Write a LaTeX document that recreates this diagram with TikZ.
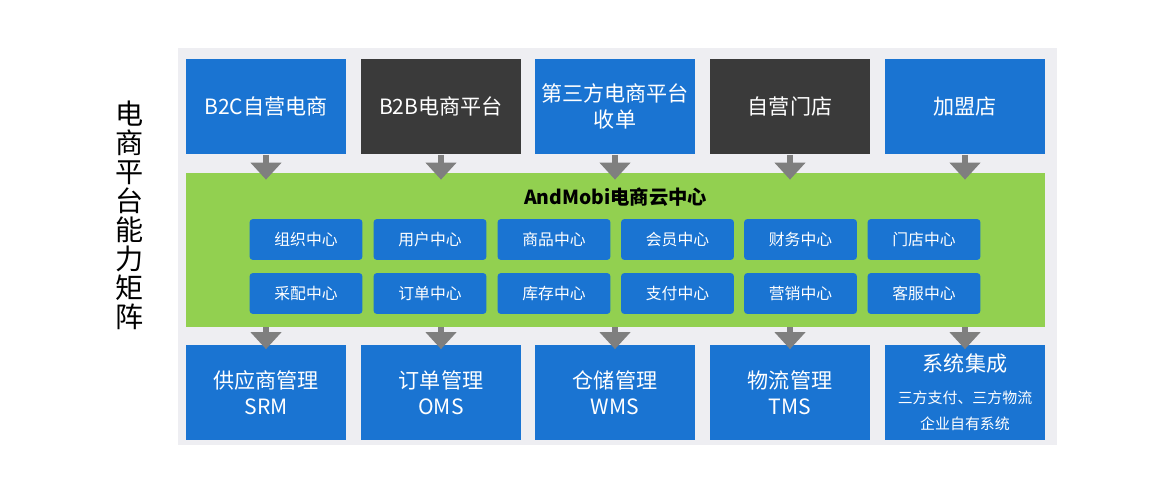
\documentclass[tikz,border=0pt]{standalone}
\usepackage{fontspec}
\setmainfont{Noto Sans CJK SC}
\usetikzlibrary{arrows.meta}
\definecolor{boxblue}{HTML}{1A74D2}
\definecolor{boxdark}{HTML}{3A3A3A}
\definecolor{bandgreen}{HTML}{92D050}
\definecolor{panelgray}{HTML}{EEEEF2}
\definecolor{arrowgray}{HTML}{7F7F7F}
\tikzset{
	big box/.style={fill=boxblue,text=white,minimum width=3.2cm,minimum height=1.92cm,align=center,font=\fontsize{12}{15}\selectfont,inner sep=0pt},
	dark box/.style={big box,fill=boxdark},
	center box/.style={fill=boxblue,text=white,rounded corners=2pt,minimum width=2.26cm,minimum height=0.82cm,font=\fontsize{9}{11}\selectfont,inner sep=0pt},
	flow/.style={arrowgray,line width=0.12cm,-{Triangle[width=0.6cm,length=0.34cm]}}
}
\begin{document}
\begin{tikzpicture}[x=0.02cm,y=-0.02cm]
	\useasboundingbox (0,0) rectangle (1150,500);
	\fill[white] (0,0) rectangle (1150,500);
	\fill[panelgray] (178,48) rectangle (1057,445);

	\node[font=\fontsize{16}{16.5}\selectfont,align=center,inner sep=0pt] (title) at (130,215)
	  {电\\商\\平\\台\\能\\力\\矩\\阵};

	\node[fill=bandgreen,minimum width=17.18cm,minimum height=3.08cm,inner sep=0pt] (band) at (615.5,250) {};
	\node[font=\bfseries\fontsize{11}{13}\selectfont] (cloud) at (615.5,197) {AndMobi电商云中心};

	% top row
	\node[big box] (t1) at (266,106.5) {B2C自营电商};
	\node[dark box] (t2) at (441,106.5) {B2B电商平台};
	\node[big box] (t3) at (615,106.5) {第三方电商平台\\收单};
	\node[dark box] (t4) at (790,106.5) {自营门店};
	\node[big box] (t5) at (965,106.5) {加盟店};

	% centers
	\node[center box] (c1) at (306,239.5) {组织中心};
	\node[center box] (c2) at (430,239.5) {用户中心};
	\node[center box] (c3) at (554,239.5) {商品中心};
	\node[center box] (c4) at (677.5,239.5) {会员中心};
	\node[center box] (c5) at (800.5,239.5) {财务中心};
	\node[center box] (c6) at (924,239.5) {门店中心};
	\node[center box] (d1) at (306,293.5) {采配中心};
	\node[center box] (d2) at (430,293.5) {订单中心};
	\node[center box] (d3) at (554,293.5) {库存中心};
	\node[center box] (d4) at (677.5,293.5) {支付中心};
	\node[center box] (d5) at (800.5,293.5) {营销中心};
	\node[center box] (d6) at (924,293.5) {客服中心};

	% bottom row
	\node[big box] (b1) at (266,392.5) {供应商管理\\SRM};
	\node[big box] (b2) at (441,392.5) {订单管理\\OMS};
	\node[big box] (b3) at (615,392.5) {仓储管理\\WMS};
	\node[big box] (b4) at (790,392.5) {物流管理\\TMS};
	\node[big box] (b5) at (965,392.5) {系统集成\\[3pt]\fontsize{8.5}{12}\selectfont 三方支付、三方物流\\\fontsize{8.5}{12}\selectfont 企业自有系统};

	\foreach \i in {1,...,5} {
	  \draw[flow,shorten >=-0.14cm] (t\i.south) -- (band.north -| t\i);
	  \draw[flow,shorten >=-0.1cm] (band.south -| b\i) -- (b\i.north);
	}
\end{tikzpicture}
\end{document}
